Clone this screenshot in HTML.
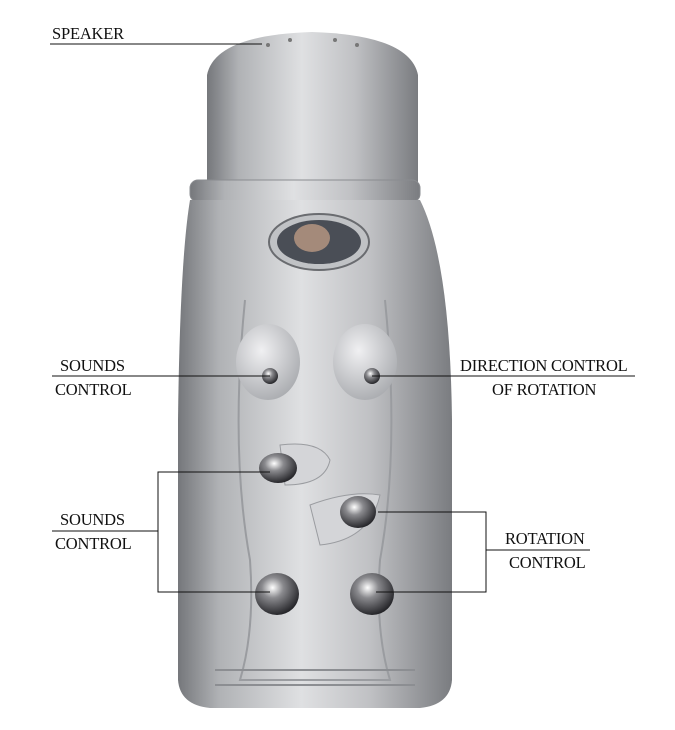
<!DOCTYPE html>
<html><head><meta charset="utf-8"><style>
html,body{margin:0;padding:0;background:#fff;width:675px;height:730px;overflow:hidden}
svg{display:block}
text{font-family:"Liberation Serif",serif;font-size:16.5px;fill:#111;letter-spacing:-0.2px}
</style></head><body>
<svg width="675" height="730" viewBox="0 0 675 730">
<defs>
<linearGradient id="g" x1="0" x2="1" y1="0" y2="0">
<stop offset="0" stop-color="#75777b"/><stop offset="0.15" stop-color="#b0b2b5"/>
<stop offset="0.45" stop-color="#dfe0e2"/><stop offset="0.7" stop-color="#c0c1c4"/>
<stop offset="1" stop-color="#7a7c80"/></linearGradient>
<radialGradient id="b" cx="0.4" cy="0.35" r="0.7">
<stop offset="0" stop-color="#fff"/><stop offset="0.35" stop-color="#8a8a8e"/><stop offset="1" stop-color="#1c1c20"/></radialGradient>
<radialGradient id="br" cx="0.4" cy="0.35" r="0.7">
<stop offset="0" stop-color="#f0f0f2"/><stop offset="1" stop-color="#a9abaf"/></radialGradient>
</defs>
<path d="M207 185 L207 75 Q215 35 312 32 Q410 35 418 75 L418 185 Z" fill="url(#g)"/>
<rect x="190" y="180" width="230" height="22" rx="8" fill="url(#g)" stroke="#8a8c90"/>
<path d="M190 200 L420 200 Q450 260 452 420 L452 680 Q450 705 420 708 L210 708 Q180 705 178 680 L178 420 Q180 260 190 200 Z" fill="url(#g)"/>
<path d="M245 300 Q230 450 250 560 Q255 630 240 680 L390 680 Q375 630 380 560 Q400 450 385 300" fill="none" stroke="#9a9ca0" stroke-width="2"/>
<line x1="215" y1="670" x2="415" y2="670" stroke="#8c8e92" stroke-width="2"/>
<line x1="215" y1="685" x2="415" y2="685" stroke="#8c8e92" stroke-width="2"/>
<ellipse cx="319" cy="242" rx="50" ry="28" fill="#c0c2c5" stroke="#6a6c70" stroke-width="2"/>
<ellipse cx="319" cy="242" rx="42" ry="22" fill="#4a4e56"/>
<ellipse cx="312" cy="238" rx="18" ry="14" fill="#a48a7a"/>
<ellipse cx="268" cy="362" rx="32" ry="38" fill="url(#br)"/>
<ellipse cx="365" cy="362" rx="32" ry="38" fill="url(#br)"/>
<circle cx="270" cy="376" r="8" fill="url(#b)"/>
<circle cx="372" cy="376" r="8" fill="url(#b)"/>
<path d="M280 445 Q320 440 330 460 Q325 485 285 485 Z" fill="#d4d5d8" stroke="#9a9ca0"/>
<path d="M310 505 Q350 490 380 495 Q370 540 320 545 Z" fill="#d4d5d8" stroke="#9a9ca0"/>
<ellipse cx="278" cy="468" rx="19" ry="15" fill="url(#b)"/>
<ellipse cx="358" cy="512" rx="18" ry="16" fill="url(#b)"/>
<ellipse cx="277" cy="594" rx="22" ry="21" fill="url(#b)"/>
<ellipse cx="372" cy="594" rx="22" ry="21" fill="url(#b)"/>
<circle cx="268" cy="45" r="2" fill="#777"/><circle cx="290" cy="40" r="2" fill="#777"/><circle cx="335" cy="40" r="2" fill="#777"/><circle cx="357" cy="45" r="2" fill="#777"/>
<g stroke="#111" stroke-width="1" fill="none">
<line x1="50" y1="44" x2="262" y2="44"/>
<line x1="52" y1="376" x2="270" y2="376"/>
<line x1="372" y1="376" x2="635" y2="376"/>
<polyline points="270,472 158,472 158,592 270,592"/>
<line x1="52" y1="531" x2="158" y2="531"/>
<polyline points="378,512 486,512 486,592 376,592"/>
<line x1="486" y1="550" x2="590" y2="550"/>
</g>
<text x="52" y="39">SPEAKER</text>
<text x="60" y="371">SOUNDS</text>
<text x="55" y="395">CONTROL</text>
<text x="460" y="371">DIRECTION CONTROL</text>
<text x="492" y="395">OF ROTATION</text>
<text x="60" y="525">SOUNDS</text>
<text x="55" y="549">CONTROL</text>
<text x="505" y="544">ROTATION</text>
<text x="509" y="568">CONTROL</text>
</svg>
</body></html>
